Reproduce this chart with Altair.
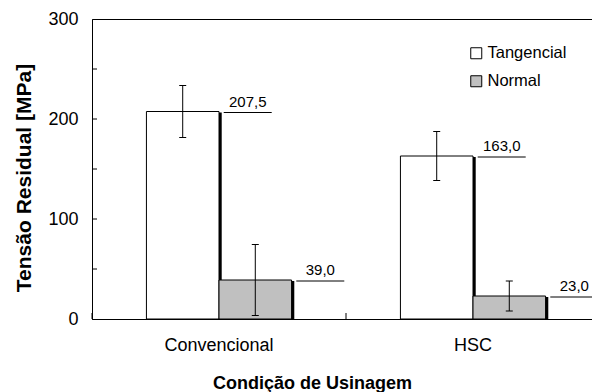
import altair as alt
import pandas as pd

categories = ["Convencional", "HSC"]
series = ["Tangencial", "Normal"]
tangencial = [207.5, 163.0]
normal = [39.0, 23.0]
err_tangencial = [26.0, 24.5]
err_normal = [35.5, 15.0]
y_tick_labels = [0, 100, 200, 300]
y_inner_ticks = [50, 100, 150, 200, 250]
bar_colors = ["#ffffff", "#c0c0c0"]

rows = []
for i, c in enumerate(categories):
    for s, vals, errs in [("Tangencial", tangencial, err_tangencial),
                          ("Normal", normal, err_normal)]:
        v = vals[i]
        e = errs[i]
        rows.append(dict(cond=c, serie=s, value=v, lo=v - e, hi=v + e,
                         label=f"{v:.1f}".replace(".", ",")))
df = pd.DataFrame(rows)

x_axis = alt.Axis(title="Condição de Usinagem", labelAngle=0, ticks=False, tickSize=0,
                  labelPadding=17, labelFontSize=18, labelColor="black",
                  titleFontSize=18, titleFontWeight="bold", titleColor="black",
                  titleX=220, titleY=69, titleBaseline="alphabetic", titleAlign="center",
                  domainColor="black", domainWidth=1)
y_axis = alt.Axis(title="Tensão Residual [MPa]", values=y_tick_labels, ticks=False, tickSize=0,
                  labelPadding=14, grid=False, labelFontSize=18, labelColor="black",
                  titleFontSize=21, titleFontWeight="bold", titleColor="black",
                  titleX=-68, titleY=158.5, titleBaseline="middle", titleAlign="center",
                  titleAngle=270, domainColor="black", domainWidth=1)


def xenc(**kw):
    return alt.X("cond:N", sort=categories,
                 scale=alt.Scale(paddingInner=0, paddingOuter=0), axis=x_axis, **kw)


def yenc(field):
    return alt.Y(field, scale=alt.Scale(domain=[0, 300], nice=False), axis=y_axis)


xo = alt.XOffset("serie:N", sort=series, scale=alt.Scale(paddingInner=0, paddingOuter=0.75))

base = alt.Chart(df)

# drop shadow on the right side of each bar (custom symbol, 1 unit = 1 px with size=4)
shadow = base.mark_point(shape="M36,1H39V400H36Z", size=4, filled=True,
                         color="black", opacity=1, strokeWidth=0, clip=True).encode(
    x=xenc(), xOffset=xo, y=yenc("value:Q"))

bars = base.mark_bar(stroke="black", strokeWidth=1, opacity=1).encode(
    x=xenc(), xOffset=xo, y=yenc("value:Q"),
    fill=alt.Fill("serie:N", sort=series,
                  scale=alt.Scale(domain=series, range=bar_colors),
                  legend=alt.Legend(title=None, orient="none", legendX=376, legendY=26,
                                    symbolType="square", symbolSize=121,
                                    symbolStrokeColor="black", symbolStrokeWidth=1,
                                    labelFontSize=16.5, labelColor="black", labelOffset=3,
                                    rowPadding=11, padding=0)))

err = base.mark_rule(color="black", strokeWidth=1, opacity=1).encode(
    x=xenc(), xOffset=xo, y=yenc("lo:Q"), y2="hi:Q")

caps = base.transform_fold(["lo", "hi"], as_=["k", "v"]).mark_tick(
    color="black", thickness=1, size=7, opacity=1).encode(x=xenc(), xOffset=xo, y=yenc("v:Q"))

label_lines = base.mark_point(shape="M41,1H89", size=4, filled=False, color="black",
                              strokeWidth=1, opacity=1).encode(
    x=xenc(), xOffset=xo, y=yenc("value:Q"))

label_text = base.mark_text(fontSize=15, color="black", align="center",
                            baseline="alphabetic", dx=65, dy=-5).encode(
    x=xenc(), xOffset=xo, y=yenc("value:Q"), text="label:N")

inner_y = alt.Chart(pd.DataFrame({"t": y_inner_ticks})).mark_rule(color="black").encode(
    y=yenc("t:Q"), x=alt.value(0), x2=alt.value(5))

cat_tick = alt.Chart(pd.DataFrame({"cond": categories})).mark_rule(color="black").encode(
    x=xenc(bandPosition=0), y=alt.value(294), y2=alt.value(300))

chart = alt.layer(shadow, bars, err, caps, label_lines, label_text, inner_y, cat_tick).properties(
    width=508, height=300,
    autosize=alt.AutoSizeParams(type="none"),
    padding={"left": 84, "top": 11, "right": -8, "bottom": 75},
).configure(
    font="Liberation Sans",
    view={"stroke": "black", "strokeWidth": 1},
)

chart.save("out.html", embed_options={"renderer": "svg", "actions": False})
